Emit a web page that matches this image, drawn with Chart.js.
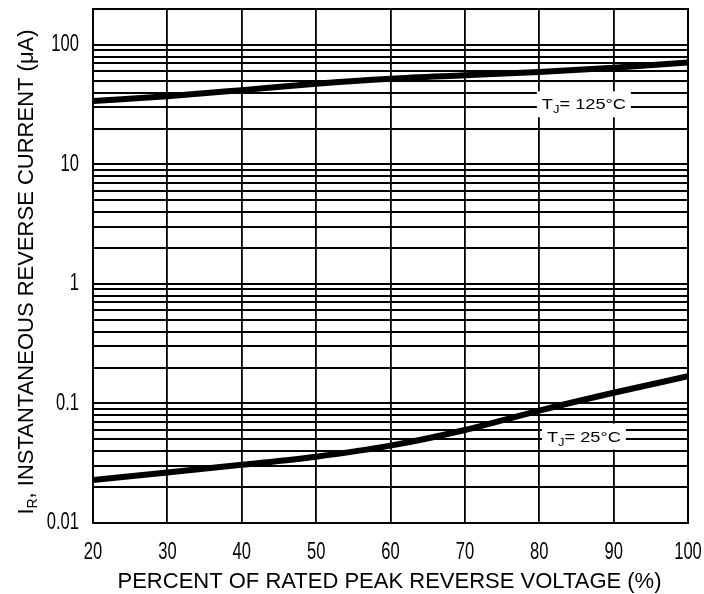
<!DOCTYPE html>
<html>
<head>
<meta charset="utf-8">
<script src="https://cdn.jsdelivr.net/npm/chart.js@4.4.1/dist/chart.umd.min.js"></script>
<style>
  html, body { margin: 0; padding: 0; background: #fff; }
  #wrap { width: 704px; height: 594px; position: relative; }
</style>
</head>
<body>
<div id="wrap"><canvas id="irChart"></canvas></div>
<script>
// Percent of rated peak reverse voltage
const voltagePct = [20, 30, 40, 50, 60, 70, 80, 90, 100];
// Instantaneous reverse current (uA)
const current125 = [34, 37.3, 41.9, 47.4, 52.2, 55.8, 59.5, 64.6, 71.5];
const current25 = [0.0229, 0.0265, 0.0307, 0.0359, 0.0444, 0.060, 0.0873, 0.123, 0.169];

const xTicks = [20, 30, 40, 50, 60, 70, 80, 90, 100];
const yTickLabels = ["0.01", "0.1", "1", "10", "100"];

// log grid: 1..9 within each decade
const yGrid = [];
yTickLabels.forEach(function (d) {
    for (let m = 1; m <= 9; m++) {
        const v = parseFloat(d) * m;
        if (v <= 100) yGrid.push(v);
    }
});

const FONT = "'Liberation Sans', Arial, sans-serif";

function toPoints(ys) {
    return voltagePct.map(function (x, i) { return { x: x, y: ys[i] }; });
}

// text squeezed or stretched horizontally
function drawScaled(ctx, text, x, y, sx, align) {
    const w = ctx.measureText(text).width * sx;
    let left = x;
    if (align === "center") left = x - w / 2;
    else if (align === "right") left = x - w;
    ctx.save();
    ctx.translate(left, y);
    ctx.scale(sx, 1);
    ctx.textAlign = "left";
    ctx.fillText(text, 0, 0);
    ctx.restore();
    return w;
}

// frame, tick labels, axis titles and curve labels
const annotations = {
    id: "annotations",
    afterDatasetsDraw(chart) {
        const ctx = chart.ctx;
        const xs = chart.scales.x, ys = chart.scales.y;
        const area = chart.chartArea;
        ctx.save();

        ctx.strokeStyle = "#000";
        ctx.lineWidth = 2;
        ctx.strokeRect(area.left, area.top, area.right - area.left, area.bottom - area.top);

        ctx.fillStyle = "#000";
        ctx.font = "23px " + FONT;
        ctx.textBaseline = "middle";
        xTicks.forEach(function (v) {
            drawScaled(ctx, String(v), xs.getPixelForValue(v), 553, 0.72, "center");
        });
        yTickLabels.forEach(function (s) {
            drawScaled(ctx, s, 79, ys.getPixelForValue(parseFloat(s)), 0.72, "right");
        });

        function tjLabel(cx, cy, temp) {
            const sx = 1.3;
            ctx.textBaseline = "alphabetic";
            ctx.font = "14px " + FONT;
            const w1 = ctx.measureText("T").width * sx;
            const rest = "= " + temp + "°C";
            const w3 = ctx.measureText(rest).width * sx;
            ctx.font = "10px " + FONT;
            const w2 = ctx.measureText("J").width * sx;
            const total = w1 + w2 + w3;
            ctx.fillStyle = "#fff";
            ctx.fillRect(cx - total / 2 - 5, cy - 13, total + 10, 26);
            ctx.fillStyle = "#000";
            let x = cx - total / 2;
            ctx.font = "14px " + FONT;
            drawScaled(ctx, "T", x, cy + 5, sx, "left");
            x += w1;
            ctx.font = "10px " + FONT;
            drawScaled(ctx, "J", x, cy + 9, sx, "left");
            x += w2;
            ctx.font = "14px " + FONT;
            drawScaled(ctx, rest, x, cy + 5, sx, "left");
        }
        tjLabel(xs.getPixelForValue(86), ys.getPixelForValue(31.9), "125");
        tjLabel(xs.getPixelForValue(86), ys.getPixelForValue(0.0528), "25");

        // x title
        ctx.fillStyle = "#000";
        ctx.font = "22px " + FONT;
        ctx.textAlign = "center";
        ctx.textBaseline = "middle";
        ctx.fillText("PERCENT OF RATED PEAK REVERSE VOLTAGE (%)", (area.left + area.right) / 2 - 1, 582);

        // y title with subscript
        ctx.translate(25, 272);
        ctx.rotate(-Math.PI / 2);
        const main = ", INSTANTANEOUS REVERSE CURRENT (μA)";
        ctx.font = "22px " + FONT;
        const wI = ctx.measureText("I").width;
        const wM = ctx.measureText(main).width;
        ctx.font = "14px " + FONT;
        const wR = ctx.measureText("R").width;
        let x = -(wI + wR + wM) / 2;
        ctx.textAlign = "left";
        ctx.textBaseline = "alphabetic";
        ctx.font = "22px " + FONT;
        ctx.fillText("I", x, 8);
        x += wI;
        ctx.font = "14px " + FONT;
        ctx.fillText("R", x, 12);
        x += wR;
        ctx.font = "22px " + FONT;
        ctx.fillText(main, x, 8);
        ctx.restore();
    }
};

const ctx = document.getElementById("irChart").getContext("2d");
new Chart(ctx, {
    type: "line",
    data: {
        datasets: [
            {
                label: "TJ = 125°C",
                data: toPoints(current125),
                borderColor: "#000",
                borderWidth: 6,
                pointRadius: 0,
                cubicInterpolationMode: "monotone",
            },
            {
                label: "TJ = 25°C",
                data: toPoints(current25),
                borderColor: "#000",
                borderWidth: 6,
                pointRadius: 0,
                cubicInterpolationMode: "monotone",
            },
        ],
    },
    options: {
        responsive: true,
        maintainAspectRatio: false,
        animation: false,
        layout: { padding: { left: 0, top: 9, right: 16, bottom: 0 } },
        plugins: { legend: { display: false }, tooltip: { enabled: false } },
        scales: {
            x: {
                type: "linear",
                min: 20,
                max: 100,
                afterBuildTicks: function (scale) {
                    scale.ticks = xTicks.map(function (v) { return { value: v }; });
                },
                afterFit: function (scale) { scale.height = 71; },
                ticks: { display: false },
                grid: { color: "#000", lineWidth: 1.8, drawTicks: false },
                border: { color: "#000", width: 2 },
            },
            y: {
                type: "logarithmic",
                min: 0.01,
                max: 200,
                afterBuildTicks: function (scale) {
                    scale.ticks = yGrid.map(function (v) { return { value: v }; });
                },
                afterFit: function (scale) { scale.width = 93; },
                ticks: { display: false },
                grid: { color: "#000", lineWidth: 2, drawTicks: false },
                border: { color: "#000", width: 2 },
            },
        },
    },
    plugins: [annotations],
});
</script>
</body>
</html>
